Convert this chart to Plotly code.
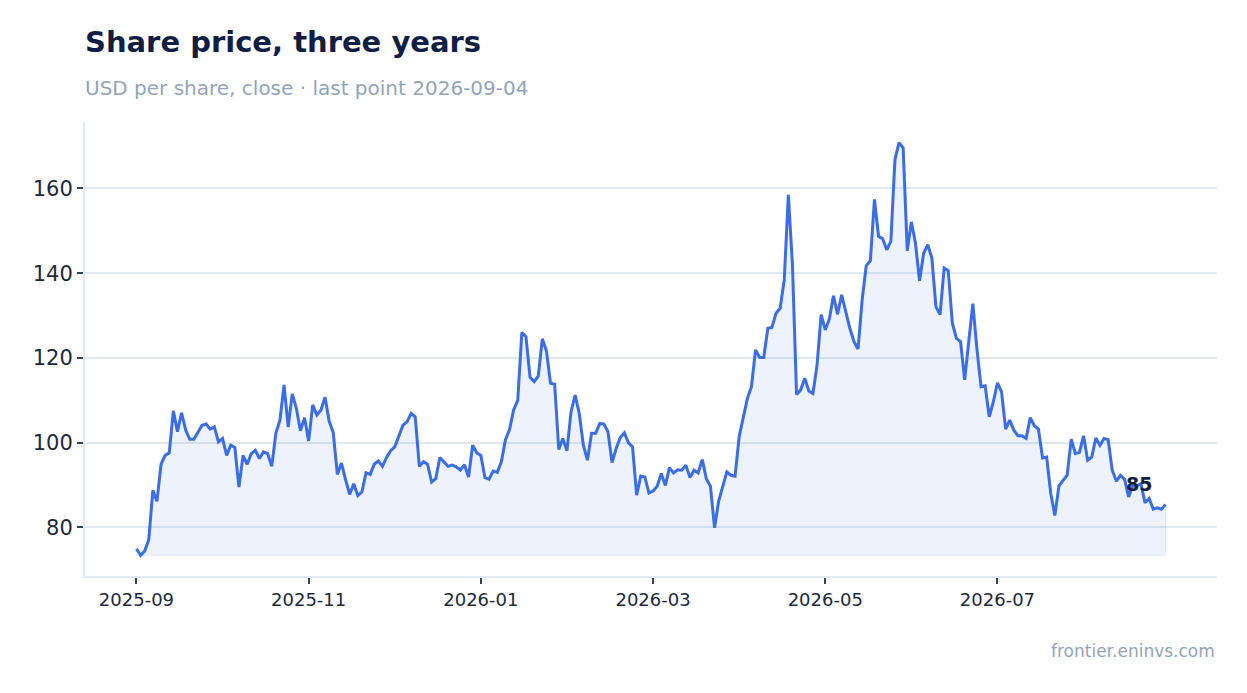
import plotly.graph_objects as go

# ---- data ----
close = [
    74.95, 73.4, 74.4, 77.1, 88.75, 86.15, 94.9, 97.0, 97.6, 107.5,
    102.6, 107.05, 103.0, 100.8, 100.8, 102.6, 104.1, 104.4, 103.2, 103.7,
    100.2, 101.0, 97.0, 99.4, 98.85, 89.5, 97.0, 94.9, 97.4, 98.2,
    96.25, 97.8, 97.4, 94.4, 102.2, 105.3, 113.6, 103.7, 111.5, 108.1,
    102.8, 105.9, 100.4, 108.9, 106.5, 107.7, 110.7, 105.1, 102.4, 92.5,
    95.2, 91.3, 87.8, 90.3, 87.5, 88.4, 92.9, 92.5, 94.9, 95.7,
    94.4, 96.5, 98.1, 99.0, 101.8, 104.1, 104.9, 106.9, 106.1, 94.4,
    95.5, 94.9, 90.7, 91.5, 96.5, 95.5, 94.4, 94.7, 94.3, 93.5,
    94.8, 91.9, 99.4, 97.6, 97.0, 91.75, 91.4, 93.3, 93.0, 95.5,
    100.7, 103.1, 107.8, 110.0, 126.0, 125.0, 115.4, 114.4, 115.7, 124.5,
    121.6, 114.0, 113.8, 98.4, 101.0, 98.1, 107.3, 111.2, 106.9, 99.4,
    95.85, 102.2, 102.2, 104.5, 104.4, 102.6, 95.3, 98.6, 101.2, 102.3,
    99.95, 99.0, 87.6, 92.1, 91.9, 88.1, 88.6, 89.7, 92.7, 89.9,
    94.1, 92.85, 93.6, 93.5, 94.7, 91.75, 93.5, 92.85, 96.0, 91.5,
    89.7, 79.9, 86.2, 89.7, 93.1, 92.3, 92.1, 101.4, 105.7, 110.4,
    113.2, 121.9, 120.1, 120.1, 127.0, 127.2, 130.55, 131.7, 138.4, 158.5,
    142.0, 111.4, 112.4, 115.2, 112.2, 111.6, 118.3, 130.2, 126.6, 129.2,
    134.65, 130.3, 134.9, 130.55, 127.0, 123.85, 122.1, 133.7, 141.8, 142.9,
    157.4, 148.7, 148.1, 145.5, 147.5, 166.8, 170.8, 169.6, 145.3, 152.1,
    147.1, 138.2, 144.7, 146.7, 143.6, 132.1, 130.2, 141.2, 140.6, 128.2,
    124.6, 123.85, 114.8, 123.85, 132.8, 122.0, 113.2, 113.4, 106.1, 109.65,
    114.1, 112.0, 103.2, 105.3, 102.95, 101.6, 101.6, 101.0, 105.9, 104.0,
    103.2, 96.4, 96.6, 88.0, 82.8, 89.8, 91.1, 92.3, 100.8, 97.4,
    97.7, 101.6, 95.85, 96.6, 101.1, 99.4, 101.0, 100.7, 93.5, 90.9,
    92.3, 91.35, 87.2, 89.9, 89.8, 90.3, 85.8, 86.8, 84.3, 84.6,
    84.3, 85.4,
]
session = list(range(len(close)))          # trading-session index
tick_sessions = [0, 42, 84, 126, 168, 210]
tick_labels = ["2025-09", "2025-11", "2026-01", "2026-03", "2026-05", "2026-07"]
y_ticks = [80, 100, 120, 140, 160]

title = "Share price, three years"
subtitle = "USD per share, close · last point 2026-09-04"
source = "frontier.eninvs.com"

# ---- style ----
FONT = "DejaVu Sans"
LINE = "#3a6de6"
FILL = "rgba(59,110,232,0.09)"
NAVY = "#0f1e42"
GREY = "#94a3b8"
GRID = "#e2e8f0"
TICKTXT = "#1e293b"

n = len(close)
base = min(close)
ymin, ymax = min(close), max(close)
ypad = (ymax - ymin) * 0.05
xpad = (n - 1) * 0.05

fig = go.Figure()
fig.add_trace(go.Scatter(
    x=session + session[::-1],
    y=close + [base] * n,
    fill="toself", fillcolor=FILL, mode="lines",
    line=dict(color="rgba(59,110,232,0.12)", width=1),
    hoverinfo="skip", showlegend=False,
))
fig.add_trace(go.Scatter(
    x=session, y=close, mode="lines",
    line=dict(color=LINE, width=3),
    showlegend=False,
))

fig.add_annotation(
    x=session[-1], y=close[-1], xref="x", yref="y",
    text="<b>%d</b>" % int(close[-1]), showarrow=False,
    xshift=-27, yshift=21,
    font=dict(family=FONT, size=19, color=NAVY),
)
fig.add_annotation(
    x=0, y=1.176, xref="paper", yref="paper", xanchor="left", yanchor="middle",
    text="<b>%s</b>" % title, showarrow=False, xshift=-2,
    font=dict(family=FONT, size=29, color=NAVY),
)
fig.add_annotation(
    x=0, y=1.075, xref="paper", yref="paper", xanchor="left", yanchor="middle",
    text=subtitle, showarrow=False, xshift=-2,
    font=dict(family=FONT, size=20, color=GREY),
)
fig.add_annotation(
    x=1, y=-0.165, xref="paper", yref="paper", xanchor="right", yanchor="middle",
    text=source, showarrow=False,
    font=dict(family=FONT, size=17, color=GREY),
)

fig.update_layout(
    width=1239, height=685,
    margin=dict(l=77, r=30, t=114, b=117),
    paper_bgcolor="white", plot_bgcolor="white",
    font=dict(family=FONT, color=TICKTXT),
    showlegend=False,
    xaxis=dict(
        range=[-xpad, n - 1 + xpad],
        tickmode="array", tickvals=tick_sessions, ticktext=tick_labels,
        showgrid=False, zeroline=False,
        showline=True, linecolor=GRID, linewidth=2,
        ticks="outside", ticklen=6, tickwidth=1.5, tickcolor="#334155",
        tickfont=dict(family=FONT, size=18, color=TICKTXT),
    ),
    yaxis=dict(
        range=[ymin - ypad, ymax + ypad],
        tickmode="array", tickvals=y_ticks,
        showgrid=True, gridcolor=GRID, gridwidth=1.5, zeroline=False,
        showline=True, linecolor=GRID, linewidth=2,
        ticks="outside", ticklen=6, tickwidth=1.5, tickcolor="#334155",
        tickfont=dict(family=FONT, size=21, color=TICKTXT),
    ),
)

fig.write_html("out.html")
